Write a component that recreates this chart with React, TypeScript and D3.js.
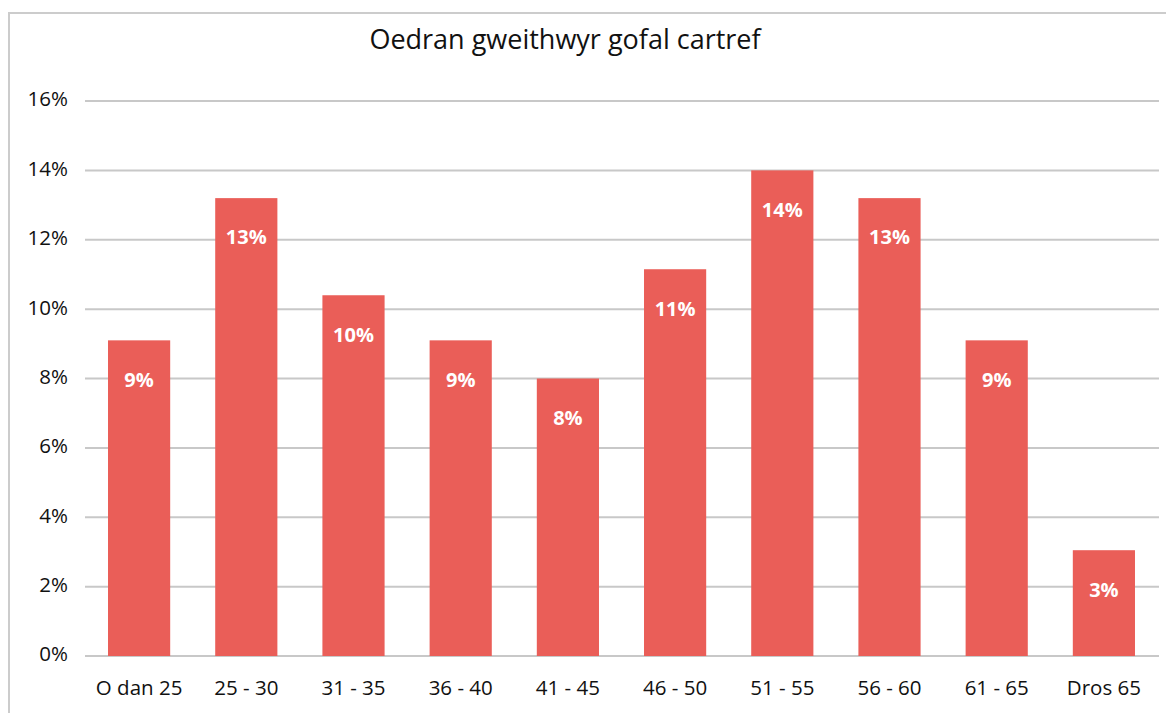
import React from "react";
import * as d3 from "d3";

const categories = ["O dan 25", "25 - 30", "31 - 35", "36 - 40", "41 - 45", "46 - 50", "51 - 55", "56 - 60", "61 - 65", "Dros 65"];
const values = [9.1, 13.2, 10.4, 9.1, 8.0, 11.15, 14.0, 13.2, 9.1, 3.05];
const valueLabels = ["9%", "13%", "10%", "9%", "8%", "11%", "14%", "13%", "9%", "3%"];
const yTicks = [0, 2, 4, 6, 8, 10, 12, 14, 16];
const title = "Oedran gweithwyr gofal cartref";

const W = 1166, H = 713;
const font = "'Open Sans', sans-serif";

export default function App() {
  const x = d3.scaleBand<string>().domain(categories).range([85.5, 1157.5]).paddingInner(0.42).paddingOuter(0.21);
  const y = d3.scaleLinear().domain([0, 16]).range([656, 101]);
  return (
    <svg width={W} height={H} style={{ position: "absolute", left: 0, top: 0 }}>
      <rect x={0} y={0} width={W} height={H} fill="#fff" />
      <rect x={9} y={13} width={1200} height={720} fill="none" stroke="#cccccc" strokeWidth={2} />
      <text x={565} y={42} textAnchor="middle" dominantBaseline="middle" fontFamily={font} fontSize={27} fill="#111">{title}</text>
      {yTicks.map(t => (
        <g key={t}>
          <line x1={85} x2={1159} y1={y(t)} y2={y(t)} stroke="#c8c8c8" strokeWidth={2} />
          <text x={68} y={y(t)} textAnchor="end" dominantBaseline="middle" fontFamily={font} fontSize={20.5} fill="#111">{t}%</text>
        </g>
      ))}
      {categories.map((c, i) => (
        <g key={c}>
          <rect x={x(c)} y={y(values[i])} width={x.bandwidth()} height={y(0) - y(values[i])} fill="#ea5e58" />
          <text x={(x(c) as number) + x.bandwidth() / 2} y={y(values[i]) + 41} textAnchor="middle" dominantBaseline="middle" fontFamily={font} fontWeight={700} fontSize={20} fill="#fff">{valueLabels[i]}</text>
          <text x={(x(c) as number) + x.bandwidth() / 2} y={690} textAnchor="middle" dominantBaseline="middle" fontFamily={font} fontSize={20.5} fill="#111">{c}</text>
        </g>
      ))}
    </svg>
  );
}
